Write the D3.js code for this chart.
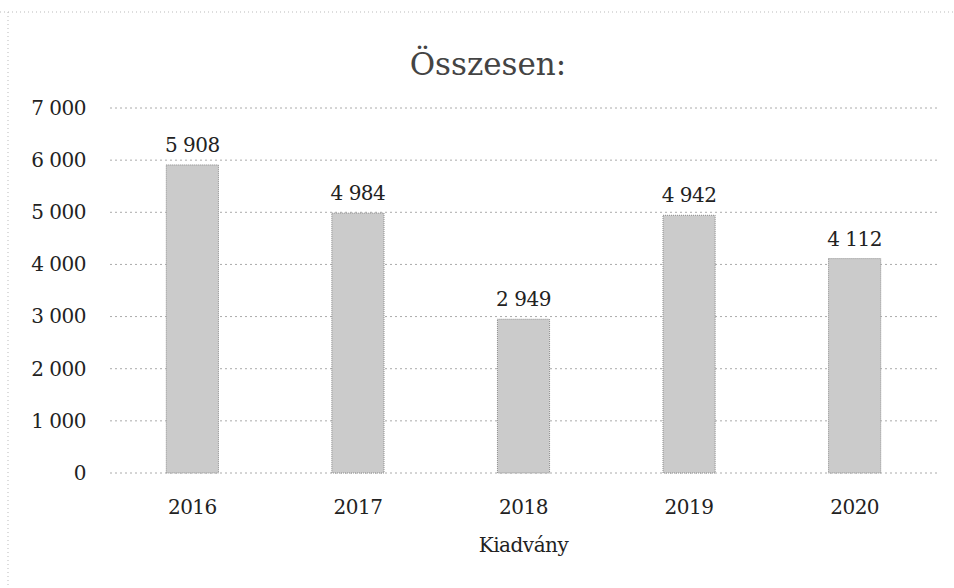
<!DOCTYPE html>
<html lang="hu">
<head>
<meta charset="UTF-8">
<title>Összesen</title>
<script src="https://d3js.org/d3.v7.min.js"></script>
<style>
  body { margin: 0; background: #fff; }
  svg text { font-family: "DejaVu Serif", serif; fill: #222; }
</style>
</head>
<body>
<div id="chart"></div>
<script>
const years = ["2016", "2017", "2018", "2019", "2020"];
const totals = [5908, 4984, 2949, 4942, 4112];
const yTicks = [0, 1000, 2000, 3000, 4000, 5000, 6000, 7000];
const titleText = "Összesen:";
const xTitle = "Kiadvány";

const W = 954, H = 588;
const margin = { top: 108, right: 17, bottom: 115, left: 110 };
const width = W - margin.left - margin.right;
const height = H - margin.top - margin.bottom;
const fs = 20;

const hu = d3.formatLocale({ decimal: ",", thousands: "\u2009", grouping: [3], currency: ["", " Ft"] });
const fmt = v => hu.format(",d")(v).replace(/\u2009/g, " ");

const data = years.map((y, i) => ({ year: y, value: totals[i] }));

const svg = d3.select("#chart").append("svg")
  .attr("width", W).attr("height", H);

// faint dotted frame of the scanned chart area
svg.append("line").attr("x1", 0).attr("x2", W).attr("y1", 12).attr("y2", 12)
  .attr("stroke", "#bbb").attr("stroke-dasharray", "1,3");
svg.append("line").attr("x1", 8).attr("x2", 8).attr("y1", 12).attr("y2", H)
  .attr("stroke", "#bbb").attr("stroke-dasharray", "1,3");

const g = svg.append("g").attr("transform", `translate(${margin.left},${margin.top})`);

const x = d3.scaleBand().domain(years).range([0, width]).paddingInner(0.685).paddingOuter(0.34);
const y = d3.scaleLinear().domain([0, 7000]).range([height, 0]);

// gridlines
g.append("g")
  .selectAll("line").data(yTicks).enter().append("line")
  .attr("x1", 0).attr("x2", width)
  .attr("y1", d => y(d)).attr("y2", d => y(d))
  .attr("stroke", "#aaa").attr("stroke-width", 1).attr("stroke-dasharray", "2,3");

// y axis labels
const yAxis = d3.axisLeft(y).tickValues(yTicks).tickFormat(fmt).tickSize(0).tickPadding(24);
g.append("g").call(yAxis)
  .call(a => a.select(".domain").remove())
  .selectAll("text").attr("font-size", fs).attr("letter-spacing", -0.5)
  .style("fill", "#222").attr("font-family", "DejaVu Serif");

// bars
g.selectAll(".bar").data(data).enter().append("rect")
  .attr("class", "bar")
  .attr("x", d => x(d.year))
  .attr("width", x.bandwidth())
  .attr("y", d => y(d.value))
  .attr("height", d => height - y(d.value))
  .attr("fill", "#cbcbcb")
  .attr("stroke", "#8a8a8a")
  .attr("stroke-width", 1)
  .attr("stroke-dasharray", "1,1");

// value labels
g.selectAll(".lbl").data(data).enter().append("text")
  .attr("class", "lbl")
  .attr("x", d => x(d.year) + x.bandwidth() / 2)
  .attr("y", d => y(d.value) - 13)
  .attr("text-anchor", "middle")
  .attr("font-size", fs)
  .attr("letter-spacing", -0.5)
  .text(d => fmt(d.value));

// x axis labels
const xAxis = d3.axisBottom(x).tickSize(0).tickPadding(27);
g.append("g").attr("transform", `translate(0,${height})`).call(xAxis)
  .call(a => a.select(".domain").remove())
  .selectAll("text").attr("font-size", fs).attr("letter-spacing", -0.5)
  .style("fill", "#222").attr("font-family", "DejaVu Serif");

// axis title
svg.append("text")
  .attr("x", margin.left + width / 2)
  .attr("y", 552)
  .attr("text-anchor", "middle")
  .attr("font-size", fs)
  .attr("letter-spacing", -0.5)
  .text(xTitle);

// chart title
svg.append("text")
  .attr("x", 488)
  .attr("y", 75)
  .attr("text-anchor", "middle")
  .attr("font-size", 31)
  .style("fill", "#444")
  .text(titleText);
</script>
</body>
</html>
